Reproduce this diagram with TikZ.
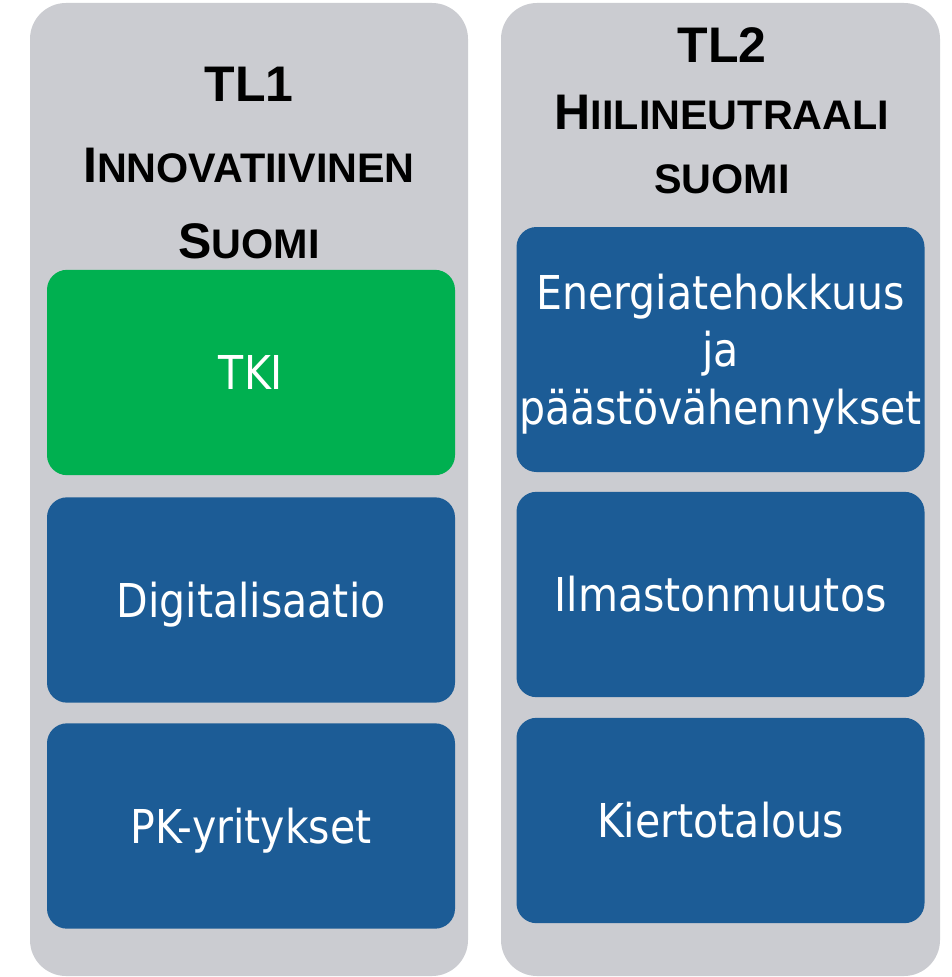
\documentclass[tikz,border=0pt]{standalone}
\usepackage{fontspec}
\setmainfont{Liberation Sans}
\newfontfamily\boxfont[FakeStretch=0.88]{DejaVu Sans}
\definecolor{panelgray}{RGB}{203,204,209}
\definecolor{boxblue}{RGB}{28,92,150}
\definecolor{boxgreen}{RGB}{0,176,80}
\newcommand{\hbig}{\fontsize{37.5}{45}\selectfont}
\newcommand{\hsmall}{\fontsize{31}{37}\selectfont}

\begin{document}
\begin{tikzpicture}[x=0.75pt, y=-0.75pt,
    panel/.style={fill=panelgray, rounded corners=27pt},
    theme/.style={anchor=base, font=\bfseries, inner sep=0pt},
    topic/.style={rounded corners=15pt, minimum width=306pt, minimum height=154pt,
        inner sep=0pt, text=white, font=\boxfont\fontsize{35}{43.125}\selectfont,
        align=center, text height=25.5pt, text depth=0pt},
    bluetopic/.style={topic, fill=boxblue},
    greentopic/.style={topic, fill=boxgreen}]
    \useasboundingbox (0,0) rectangle (951,977);

    % Panels
    \fill[panel] (30,3) rectangle (468,976);
    \fill[panel] (501,3) rectangle (940,976);

    % TL1
    \node[theme] (tlone) at (249,102) {\hbig TL1};
    \node[theme] (tlonea) at (249,182) {\hbig I\hsmall NNOVATIIVINEN};
    \node[theme] (tloneb) at (249,258) {\hbig S\hsmall UOMI};

    \node[greentopic] (tki) at (251,372.5) {TKI};
    \node[bluetopic] (digi) at (251,600) {Digitalisaatio};
    \node[bluetopic] (pk) at (251,826) {PK-yritykset};

    % TL2
    \node[theme] (tltwo) at (722,63) {\hbig TL2};
    \node[theme] (tltwoa) at (722,130) {\hbig H\hsmall IILINEUTRAALI};
    \node[theme] (tltwob) at (722,193) {\hsmall SUOMI};

    \node[bluetopic, minimum height=183.75pt, text height=111.75pt] (energia) at (720.5,349.5)
        {Energiatehokkuus\\ja\\päästövähennykset};
    \node[bluetopic] (ilmasto) at (720.5,594.5) {Ilmastonmuutos};
    \node[bluetopic] (kierto) at (720.5,820.5) {Kiertotalous};
\end{tikzpicture}
\end{document}
